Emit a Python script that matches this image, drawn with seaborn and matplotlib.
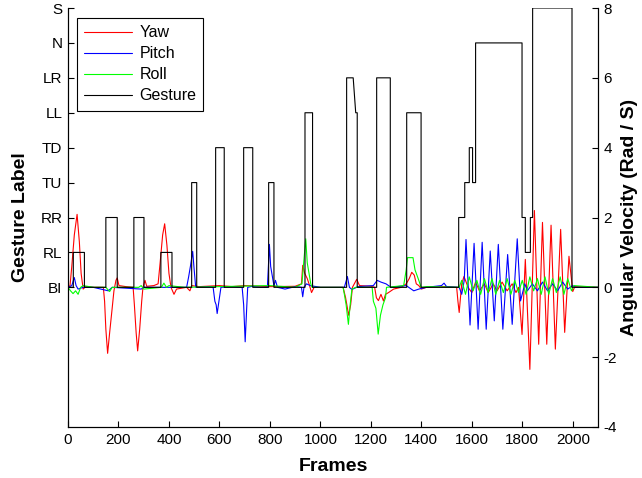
import matplotlib
matplotlib.use("Agg")
import matplotlib.pyplot as plt
import seaborn as sns
import pandas as pd

sns.set_theme(style="white")
plt.rcParams['font.family'] = ['Liberation Sans', 'DejaVu Sans']
plt.rcParams['text.color'] = 'black'
plt.rcParams['axes.labelcolor'] = 'black'

# ---------------- data ----------------
gesture_labels = ["BI", "RL", "RR", "TU", "TD", "LL", "LR", "N", "S"]
x_ticks = [0, 200, 400, 600, 800, 1000, 1200, 1400, 1600, 1800, 2000]
right_ticks = [-4, -2, 0, 2, 4, 6, 8]

gesture_frames = [0, 21, 21, 65, 65, 150, 150, 195, 195, 261, 261, 301, 301, 368, 368, 412, 412,
                  490, 490, 510, 510, 585, 585, 619, 619, 696, 696, 732, 732, 795, 795, 816, 816,
                  939, 939, 969, 969, 1104, 1104, 1130, 1140, 1146, 1146, 1223, 1223, 1277, 1277,
                  1342, 1342, 1399, 1399, 1548, 1548, 1572, 1572, 1590, 1590, 1603, 1603, 1615, 1615,
                  1799, 1799, 1812, 1812, 1832, 1832, 1841, 1841, 1997, 1997, 2100]
gesture_values = [0, 0, 1, 1, 0, 0, 2, 2, 0, 0, 2, 2, 0, 0, 1, 1, 0,
                  0, 3, 3, 0, 0, 4, 4, 0, 0, 4, 4, 0, 0, 3, 3, 0,
                  0, 5, 5, 0, 0, 6, 6, 5, 5, 0, 0, 6, 6, 0,
                  0, 5, 5, 0, 0, 2, 2, 3, 3, 4, 4, 3, 3, 7,
                  7, 2, 2, 1, 1, 2, 2, 8, 8, 0, 0]

yaw_frames = [0, 8, 15, 25, 36, 45, 52, 60, 70, 100, 140, 145, 150, 157, 165, 175, 182, 190, 195, 202,
              230, 258, 263, 270, 276, 284, 292, 297, 305, 312, 340, 357, 365, 375, 383, 392, 400, 408,
              420, 430, 470, 483, 490, 520, 600, 650, 700, 800, 900, 925, 930, 938, 948, 955, 965, 975,
              1090, 1100, 1112, 1120, 1127, 1144, 1155, 1200, 1215, 1222, 1230, 1240, 1250, 1258, 1270,
              1290, 1320, 1340, 1352, 1362, 1372, 1380, 1390, 1400, 1420, 1500, 1540, 1545, 1550, 1555,
              1560, 1569, 1575, 1585, 1600, 1615, 1630, 1650, 1665, 1685, 1700, 1720, 1740, 1760, 1775,
              1785, 1799, 1812, 1830, 1848, 1865, 1880, 1897, 1914, 1931, 1952, 1968, 1985, 2000, 2008, 2100]
yaw_values = [0.0, 0.05, 0.6, 1.5, 2.09, 1.3, 0.4, -0.05, 0.02, 0.0, 0.0, -0.4, -1.2, -1.89, -1.3, -0.6,
              -0.1, 0.2, 0.27, 0.05, 0.02, 0.0, -0.5, -1.3, -1.82, -1.2, -0.4, 0.0, 0.2, 0.03, 0.05, 0.1,
              0.7, 1.5, 1.82, 1.2, 0.4, 0.0, -0.2, -0.05, 0.0, -0.1, 0.05, 0.02, 0.05, 0.02, 0.05, 0.02,
              0.03, 0.1, 0.63, 0.4, 0.25, 0.1, -0.15, 0.0, 0.0, -0.3, -0.8, -0.5, 0.0, 0.23, 0.05, 0.03,
              0.0, -0.3, -0.38, -0.2, -0.39, -0.2, -0.15, -0.05, 0.0, 0.1, 0.25, 0.43, 0.35, 0.1, 0.05,
              -0.05, 0.0, 0.02, 0.0, -0.4, -0.72, -0.3, 0.1, 0.31, 0.2, 0.0, -0.15, 0.15, -0.1, 0.1,
              -0.15, 0.1, -0.1, 0.15, -0.1, 0.1, -0.15, 0.0, -1.35, 0.8, -2.35, 2.2, -1.63, 1.86, -1.63,
              1.78, -1.77, 1.66, -1.29, 0.89, -0.12, 0.02, 0.0]

pitch_frames = [0, 15, 25, 32, 40, 60, 100, 160, 175, 290, 300, 400, 470, 478, 485, 494, 500, 506, 520,
                560, 575, 582, 587, 591, 598, 606, 650, 690, 696, 702, 708, 712, 730, 760, 790, 794, 798,
                803, 810, 816, 822, 830, 860, 900, 925, 930, 935, 945, 960, 1000, 1095, 1107, 1115, 1125,
                1150, 1210, 1225, 1240, 1260, 1280, 1340, 1370, 1390, 1420, 1480, 1490, 1500, 1550, 1560,
                1570, 1577, 1593, 1609, 1625, 1641, 1657, 1673, 1689, 1705, 1723, 1742, 1760, 1780, 1793,
                1810, 1820, 1840, 1860, 1880, 1900, 1920, 1940, 1960, 1980, 2000, 2010, 2100]
pitch_values = [0.0, 0.05, 0.28, 0.05, -0.05, 0.0, 0.0, -0.1, 0.0, -0.05, 0.0, 0.0, 0.0, 0.3, 0.6, 1.03,
                0.5, 0.0, 0.0, 0.02, 0.0, -0.4, -0.5, -0.75, -0.4, 0.0, 0.02, 0.0, -0.5, -1.56, -0.6, 0.0,
                0.03, 0.0, 0.0, 0.6, 1.23, 0.6, 0.3, 0.05, 0.2, 0.0, -0.05, 0.02, 0.0, -0.27, 0.0, 0.1,
                0.05, 0.0, 0.0, 0.31, 0.0, -0.06, 0.02, 0.05, 0.2, 0.15, 0.1, 0.0, 0.05, -0.1, -0.05, 0.0,
                0.05, 0.12, 0.02, 0.0, -0.2, 0.2, 1.37, -1.08, 1.26, -1.2, 1.29, -1.2, 1.04, -0.96, 1.23,
                -1.2, 0.94, -1.06, 1.39, -0.39, 0.1, -0.1, 0.1, -0.1, 0.15, -0.1, 0.1, -0.1, 0.15, -0.05,
                0.05, 0.0, 0.0]

roll_frames = [0, 10, 20, 30, 40, 50, 60, 100, 150, 165, 175, 280, 290, 300, 370, 380, 390, 400, 460,
               800, 900, 927, 935, 942, 948, 955, 962, 967, 1090, 1095, 1102, 1111, 1118, 1125, 1140,
               1205, 1210, 1220, 1229, 1238, 1248, 1258, 1262, 1330, 1340, 1345, 1367, 1375, 1390, 1399,
               1420, 1550, 1560, 1575, 1590, 1605, 1620, 1635, 1650, 1665, 1680, 1695, 1710, 1725, 1740,
               1755, 1770, 1785, 1800, 1815, 1830, 1845, 1860, 1875, 1890, 1905, 1920, 1935, 1950, 1965,
               1980, 1995, 2005, 2100]
roll_values = [0.0, -0.1, -0.18, -0.1, -0.2, 0.0, 0.05, 0.0, 0.0, -0.12, 0.0, 0.0, 0.05, -0.05, 0.0,
               0.12, 0.0, 0.05, 0.0, 0.05, 0.0, 0.1, 0.8, 1.39, 0.7, 0.4, 0.1, 0.0, 0.0, -0.2, -0.5,
               -1.06, -0.5, -0.05, 0.0, 0.0, -0.4, -0.6, -1.34, -0.8, -0.5, -0.3, 0.0, 0.05, 0.5, 0.85,
               0.85, 0.5, 0.2, 0.0, 0.02, 0.0, 0.2, -0.2, 0.3, -0.1, 0.2, -0.2, 0.25, -0.15, 0.25, -0.2,
               0.2, -0.15, 0.25, -0.2, 0.2, -0.15, 0.2, -0.2, 0.3, -0.1, 0.25, -0.2, 0.3, -0.2, 0.25,
               -0.15, 0.3, -0.2, 0.25, -0.1, 0.05, 0.0]

# ---------------- figure ----------------
fig = plt.figure(figsize=(6.42, 4.78), dpi=100)
ax = fig.add_axes([68 / 642, 51 / 478, 530 / 642, 419 / 478])
ax.set_facecolor("white")

series = [("Yaw", yaw_frames, yaw_values, "#ff0000"),
          ("Pitch", pitch_frames, pitch_values, "#0000ff"),
          ("Roll", roll_frames, roll_values, "#00ff00"),
          ("Gesture", gesture_frames, gesture_values, "black")]
for name, fr, vals, col in series:
    df = pd.DataFrame({"Frames": fr, "v": vals})
    sns.lineplot(data=df, x="Frames", y="v", ax=ax, color=col, sort=False, estimator=None,
                 linewidth=0.8, label=name)

ax.set_xlim(0, 2100)
ax.set_ylim(-4, 8)
ax.set_xticks(x_ticks)
ax.set_xticklabels([str(t) for t in x_ticks])
ax.set_yticks(list(range(len(gesture_labels))))
ax.set_yticklabels(gesture_labels)
ax.tick_params(axis="both", direction="in", length=4, width=0.8, labelsize=11, colors="black",
               pad=4, left=True, bottom=True)
ax.set_xlabel("Frames", fontsize=14, fontweight="bold", labelpad=8, color="black")
ax.set_ylabel("Gesture Label", fontsize=14, fontweight="bold", labelpad=8, color="black")

ax2 = ax.twinx()
ax2.set_ylim(-4, 8)
ax2.set_yticks(right_ticks)
ax2.set_yticklabels([str(t) for t in right_ticks])
ax2.tick_params(axis="y", direction="in", length=4, width=0.8, labelsize=11, colors="black",
                pad=4, right=True)
ax2.set_ylabel("Angular Velocity (Rad / S)", fontsize=14, fontweight="bold", labelpad=3,
               color="black")

for a in (ax, ax2):
    for s in ("left", "right", "bottom"):
        a.spines[s].set_visible(True)
        a.spines[s].set_color("black")
        a.spines[s].set_linewidth(0.8)
    a.spines["top"].set_visible(False)
    a.grid(False)

leg = ax.legend(loc="upper left", bbox_to_anchor=(9 / 530, 409 / 419), borderaxespad=0,
                frameon=True, fancybox=False, fontsize=11.5, handlelength=3.0,
                labelspacing=0.38, borderpad=0.45, handletextpad=0.45)
leg.get_frame().set_edgecolor("black")
leg.get_frame().set_linewidth(0.8)
leg.get_frame().set_alpha(1)
for t in leg.get_texts():
    t.set_color("black")

fig.savefig("out.png", dpi=100)
